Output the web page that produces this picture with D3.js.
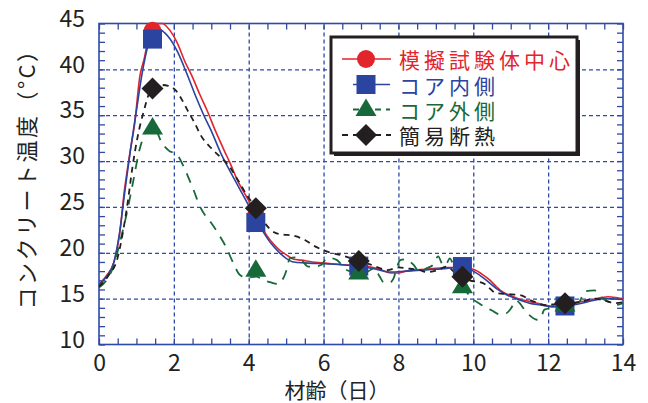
<!DOCTYPE html>
<html>
<head>
<meta charset="utf-8">
<script src="https://cdn.jsdelivr.net/npm/d3@7"></script>
<style>
  html, body { margin: 0; padding: 0; background: #fff; }
  svg { display: block; }
</style>
</head>
<body>
<svg id="chart" width="648" height="403"></svg>
<script>
// Temperature histories (day, °C)
const centerLine = [[0,16.6],[0.2,17.5],[0.4,19.0],[0.55,22.0],[0.67,26.5],[0.83,31.0],[0.95,34.0],[1.09,39.2],[1.21,41.2],[1.3,43.0],[1.4,44.5],[1.5,45.0],[1.7,45.0],[1.8,44.7],[2.0,43.6],[2.1,42.8],[2.3,40.8],[2.47,39.4],[2.7,37.2],[2.9,35.4],[3.1,33.4],[3.34,31.2],[3.5,29.8],[3.7,27.9],[3.9,26.4],[4.0,25.7],[4.2,24.0],[4.48,21.9],[4.7,20.8],[4.85,20.2],[5.0,19.8],[5.2,19.3],[5.4,19.2],[5.7,19.0],[6.0,18.9],[6.2,18.8],[6.5,18.7],[6.9,18.6],[7.2,18.5],[7.5,18.2],[7.8,17.8],[8.0,17.8],[8.2,18.0],[8.4,18.1],[8.7,18.2],[9.0,18.3],[9.3,18.4],[9.7,18.4],[10.0,18.2],[10.26,17.6],[10.45,17.0],[10.62,16.3],[10.8,15.7],[10.97,15.4],[11.2,15.0],[11.5,14.7],[11.8,14.4],[12.05,14.2],[12.4,14.2],[12.7,14.5],[12.93,14.7],[13.1,14.8],[13.29,15.0],[13.6,15.2],[13.9,15.05],[14.0,15.0]];
const innerLine = [[0,16.5],[0.2,17.4],[0.4,19.0],[0.55,22.2],[0.7,27.0],[0.85,31.5],[1.0,35.5],[1.15,39.5],[1.25,41.6],[1.35,43.2],[1.45,44.2],[1.6,44.4],[1.75,44.0],[1.9,43.3],[2.1,41.9],[2.34,39.6],[2.6,36.9],[2.8,35.0],[3.0,33.3],[3.25,30.9],[3.5,28.9],[3.7,27.4],[3.9,25.9],[4.2,23.6],[4.4,22.2],[4.6,21.0],[4.8,20.1],[5.0,19.4],[5.2,19.0],[5.5,18.9],[6.0,18.8],[6.5,18.7],[7.0,18.5],[7.4,18.2],[7.8,17.9],[8.2,18.0],[8.6,18.1],[9.0,18.2],[9.5,18.4],[9.75,18.5],[10.0,18.0],[10.26,17.3],[10.62,16.1],[10.9,15.4],[11.2,14.9],[11.5,14.5],[11.8,14.3],[12.1,14.1],[12.5,14.2],[12.9,14.5],[13.2,14.8],[13.5,15.0],[14.0,14.9]];
const outerLine = [[0,16.2],[0.2,17.0],[0.41,18.8],[0.55,21.0],[0.72,23.9],[0.9,27.5],[1.08,31.2],[1.25,33.2],[1.41,33.8],[1.55,33.2],[1.65,32.2],[1.85,31.2],[2.1,30.6],[2.25,29.5],[2.41,28.0],[2.55,26.6],[2.67,25.3],[2.85,24.0],[2.99,23.3],[3.2,22.0],[3.41,20.5],[3.55,19.2],[3.63,18.5],[3.76,17.6],[3.95,17.3],[4.2,17.4],[4.4,17.0],[4.57,16.8],[4.79,16.6],[4.92,17.2],[5.01,18.1],[5.1,19.4],[5.25,19.5],[5.41,19.2],[5.59,18.5],[5.75,18.5],[5.95,18.7],[6.08,19.4],[6.2,19.4],[6.36,19.2],[6.5,18.6],[6.63,18.1],[6.95,17.8],[7.2,18.0],[7.34,18.3],[7.5,17.4],[7.6,16.8],[7.75,16.7],[7.87,17.2],[7.95,18.3],[8.05,19.2],[8.2,19.3],[8.4,18.7],[8.57,17.9],[8.75,18.3],[8.93,18.7],[9.06,19.6],[9.2,18.6],[9.3,18.9],[9.37,19.4],[9.5,18.3],[9.7,16.6],[9.9,15.3],[10.19,14.4],[10.5,13.7],[10.7,13.3],[10.88,13.4],[11.0,13.9],[11.15,14.8],[11.24,14.5],[11.35,13.9],[11.5,13.2],[11.7,12.7],[11.79,12.8],[11.9,13.8],[12.1,14.0],[12.45,14.3],[12.7,14.5],[12.84,14.7],[12.98,15.8],[13.24,15.9],[13.35,15.5],[13.46,15.0],[13.65,14.6],[13.8,14.3],[14.0,14.5]];
const simpleLine = [[0,16.3],[0.25,17.5],[0.5,19.5],[0.65,22.5],[0.76,25.3],[0.9,29.5],[1.03,32.6],[1.2,35.5],[1.35,37.5],[1.5,38.2],[1.65,38.3],[1.85,38.2],[2.05,37.7],[2.2,36.8],[2.37,35.5],[2.55,34.2],[2.72,32.8],[3.0,31.4],[3.25,30.4],[3.45,29.6],[3.7,28.0],[3.95,26.3],[4.19,24.85],[4.4,23.4],[4.7,22.2],[4.9,22.0],[5.15,21.9],[5.5,21.4],[5.77,20.7],[6.12,20.1],[6.5,19.7],[6.94,19.1],[7.2,18.8],[7.45,18.4],[7.7,18.1],[8.0,18.4],[8.22,18.3],[8.57,18.1],[8.76,17.9],[9.05,18.1],[9.28,18.5],[9.5,17.9],[9.68,17.4],[9.9,17.0],[10.26,16.7],[10.62,15.6],[10.9,15.5],[11.24,15.4],[11.6,14.7],[11.95,14.3],[12.2,14.4],[12.44,14.5],[12.93,14.7],[13.2,15.0],[13.5,14.8],[13.78,14.5],[14.0,14.6]];

// Sampled measurement points
const markerDays = [1.43, 4.19, 6.94, 9.71, 12.45];
const centerPts = [44.2, 24.0, 18.6, 18.4, 14.2];
const innerPts  = [43.3, 23.3, 18.55, 18.5, 14.2];
const outerPts  = [33.6, 18.1, 17.8, 16.3, 14.3];
const simplePts = [37.9, 24.85, 19.1, 17.4, 14.5];

const legendLabels = ["模擬試験体中心", "コア内側", "コア外側", "簡易断熱"];
const xTicks = [0, 2, 4, 6, 8, 10, 12, 14];
const yTicks = [10, 15, 20, 25, 30, 35, 40, 45];
const xTitle = "材齢（日）";
const yTitle = "コンクリート温度（°C）";

const RED = "#e2242b", BLUE = "#2a44a0", GREEN = "#18693a", BLACK = "#231f20";
const GRID = "#2e4aa6";

const svg = d3.select("#chart");
const pL = 99, pR = 623, pT = 23.5, pB = 344.5;
const x = d3.scaleLinear().domain([0, 14]).range([pL, pR]);
const y = d3.scaleLinear().domain([10, 45]).range([pB, pT]);

const series = [
  { line: centerLine, pts: centerPts, color: RED, shape: "circle", width: 1.6, dash: null, label: legendLabels[0] },
  { line: innerLine, pts: innerPts, color: BLUE, shape: "square", width: 1.6, dash: null, label: legendLabels[1] },
  { line: outerLine, pts: outerPts, color: GREEN, shape: "triangle", width: 1.8, dash: "10,8", label: legendLabels[2] },
  { line: simpleLine, pts: simplePts, color: BLACK, shape: "diamond", width: 1.8, dash: "6,5", label: legendLabels[3] }
];

const fontNum = "'Noto Sans CJK JP', 'Liberation Sans', sans-serif";
const fontJa = "'Noto Sans CJK JP', sans-serif";

// grid
const grid = svg.append("g");
grid.append("g").attr("transform", `translate(0,${pB})`)
  .call(d3.axisBottom(x).tickValues(xTicks.slice(1, -1)).tickSize(-(pB - pT)).tickFormat(""))
  .call(g => g.select(".domain").remove());
grid.append("g").attr("transform", `translate(${pL},0)`)
  .call(d3.axisLeft(y).tickValues(yTicks.slice(1, -1)).tickSize(-(pR - pL)).tickFormat(""))
  .call(g => g.select(".domain").remove());
grid.selectAll("line").attr("stroke", GRID).attr("stroke-width", 1.3).attr("stroke-dasharray", "4,3");

// minor ticks, inward on all four sides
const xMinor = d3.range(0, 14.01, 0.5);
const yMinor = d3.range(10, 45.01, 1);
const tickG = svg.append("g");
tickG.append("g").attr("transform", `translate(0,${pB})`).call(d3.axisBottom(x).tickValues(xMinor).tickSize(-6).tickFormat(""));
tickG.append("g").attr("transform", `translate(0,${pT})`).call(d3.axisTop(x).tickValues(xMinor).tickSize(-6).tickFormat(""));
tickG.append("g").attr("transform", `translate(${pL},0)`).call(d3.axisLeft(y).tickValues(yMinor).tickSize(-6).tickFormat(""));
tickG.append("g").attr("transform", `translate(${pR},0)`).call(d3.axisRight(y).tickValues(yMinor).tickSize(-6).tickFormat(""));
tickG.selectAll(".domain").remove();
tickG.selectAll("line").attr("stroke", GRID).attr("stroke-width", 1.3);

// frame
svg.append("rect").attr("x", pL).attr("y", pT).attr("width", pR - pL).attr("height", pB - pT)
  .attr("fill", "none").attr("stroke", GRID).attr("stroke-width", 1.6);

// tick labels
const xLab = svg.append("g").attr("transform", `translate(0,${pB})`)
  .call(d3.axisBottom(x).tickValues(xTicks).tickSize(0).tickPadding(10).tickFormat(d3.format("d")));
xLab.select(".domain").remove();
xLab.selectAll("text").attr("font-family", fontNum).attr("font-size", 23).attr("fill", "#222");

const yLab = svg.append("g").attr("transform", `translate(${pL},0)`)
  .call(d3.axisLeft(y).tickValues(yTicks).tickSize(0).tickPadding(14).tickFormat(d3.format("d")));
yLab.select(".domain").remove();
yLab.selectAll("text").attr("font-family", fontNum).attr("font-size", 23).attr("fill", "#222")
  .attr("dy", "0.12em");

// axis titles
svg.append("text").attr("x", 337).attr("y", 389).attr("text-anchor", "middle")
  .attr("dominant-baseline", "central").attr("font-family", fontJa).attr("font-size", 21).attr("fill", "#222")
  .text(xTitle);
svg.append("text").attr("transform", "translate(25,173.5) rotate(-90)").attr("text-anchor", "middle")
  .attr("dominant-baseline", "central").attr("font-family", fontJa).attr("font-size", 22)
  .attr("letter-spacing", 2.5).attr("fill", "#222").text(yTitle);

// markers
function markerPath(shape) {
  if (shape === "circle") return d3.symbol(d3.symbolCircle, Math.PI * 9 * 9)();
  if (shape === "square") return "M-9.5,-9.5H9.5V9.5H-9.5Z";
  if (shape === "triangle") return "M0,-11L10.5,6.5L-10.5,6.5Z";
  return "M0,-11L11,0L0,11L-11,0Z";
}

// lines
const lineGen = d3.line().x(d => x(d[0])).y(d => y(d[1])).curve(d3.curveMonotoneX);
const plot = svg.append("g");
series.forEach(s => {
  plot.append("path").datum(s.line).attr("d", lineGen)
    .attr("fill", "none").attr("stroke", s.color).attr("stroke-width", s.width)
    .attr("stroke-dasharray", s.dash).attr("stroke-linejoin", "round");
});
series.forEach(s => {
  plot.selectAll(null).data(s.pts).enter().append("path")
    .attr("transform", (d, i) => `translate(${x(markerDays[i])},${y(d)})`)
    .attr("d", markerPath(s.shape)).attr("fill", s.color);
});

// legend
const lg = svg.append("g");
lg.append("rect").attr("x", 334).attr("y", 40).attr("width", 246).attr("height", 116).attr("fill", BLACK);
lg.append("rect").attr("x", 331).attr("y", 37).attr("width", 246).attr("height", 116)
  .attr("fill", "#fff").attr("stroke", BLACK).attr("stroke-width", 3);
const rowY = [59, 84.5, 109.5, 135];
const lineSpan = [[342, 391], [353, 390], [353, 390], [342, 391]];
series.forEach((s, i) => {
  lg.append("line").attr("x1", lineSpan[i][0]).attr("x2", lineSpan[i][1]).attr("y1", rowY[i]).attr("y2", rowY[i])
    .attr("stroke", s.color).attr("stroke-width", s.width).attr("stroke-dasharray", s.dash ? "6,5" : null);
  lg.append("path").attr("transform", `translate(366,${rowY[i]})`).attr("d", markerPath(s.shape)).attr("fill", s.color);
  lg.append("text").attr("x", 399).attr("y", rowY[i]).attr("dominant-baseline", "central")
    .attr("font-family", fontJa).attr("font-size", 21).attr("letter-spacing", 4)
    .attr("fill", s.color).text(s.label);
});
</script>
</body>
</html>
